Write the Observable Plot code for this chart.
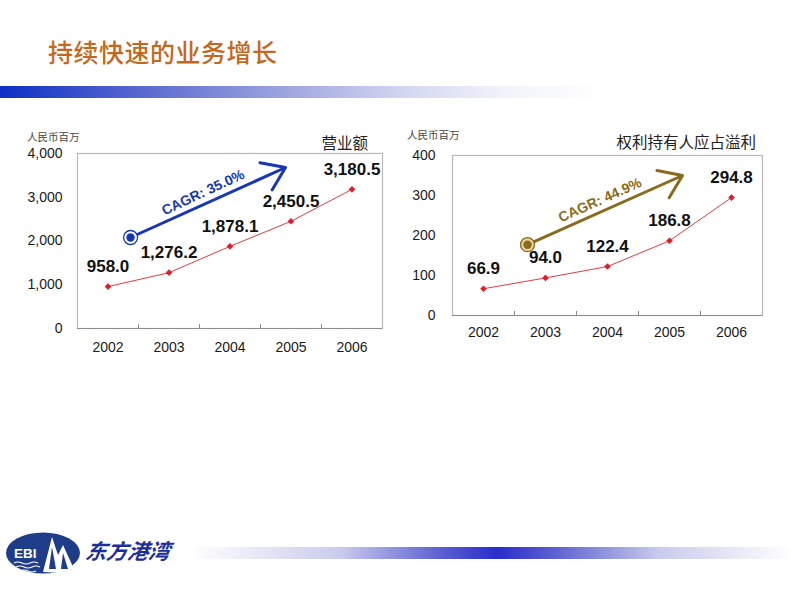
<!DOCTYPE html>
<html>
<head>
<meta charset="utf-8">
<script src="https://cdn.jsdelivr.net/npm/d3@7"></script>
<script src="https://cdn.jsdelivr.net/npm/@observablehq/plot@0.6"></script>
<style>
  html, body { margin: 0; padding: 0; background: #fff; }
  body { width: 800px; height: 600px; position: relative; overflow: hidden; font-family: "Liberation Sans", Arial, sans-serif; }
  .abs { position: absolute; }
  #title { left: 48px; top: 33px; font-family: "Noto Sans CJK SC", sans-serif; font-size: 25px; font-weight: 500; color: #c4691c; letter-spacing: 0.5px; white-space: nowrap; }
  #topbar { left: 0; top: 86px; width: 600px; height: 12px; background: linear-gradient(to right, #0e30c6 0%, #5d6cd0 25%, #9ea6df 48%, #d4d8f1 68%, #f3f4fb 85%, #ffffff 100%); }
  .unit { font-family: "Noto Sans CJK SC", sans-serif; font-size: 10.5px; color: #444; white-space: nowrap; }
  .ctitle { font-family: "Noto Sans CJK SC", sans-serif; font-size: 15.5px; color: #222; white-space: nowrap; text-align: right; }
  #footbar { left: 190px; top: 547px; width: 602px; height: 12px; background: linear-gradient(to right, rgba(255,255,255,1) 0%, #c9cbec 25%, #5a5ed0 42%, #2a2ccc 51%, #5a5ed0 60%, #c9cbec 78%, rgba(255,255,255,1) 100%); }
  #brand { left: 86px; top: 535px; font-family: "Noto Sans CJK SC", sans-serif; font-size: 21px; font-weight: 700; font-style: italic; color: #1c2e9c; white-space: nowrap; transform: skewX(-10deg); }
</style>
</head>
<body>
<div id="title" class="abs">持续快速的业务增长</div>
<div id="topbar" class="abs"></div>

<div class="abs unit" style="left:27px;top:129px;">人民币百万</div>
<div class="abs ctitle" style="right:432px;top:131px;">营业额</div>
<div class="abs unit" style="left:407px;top:127px;">人民币百万</div>
<div class="abs ctitle" style="right:44px;top:130px;">权利持有人应占溢利</div>

<div id="left" class="abs" style="left:0;top:120px;"></div>
<div id="right" class="abs" style="left:390px;top:120px;"></div>

<svg class="abs" style="left:0;top:525px;" width="90" height="56">
  <ellipse cx="43" cy="28" rx="37" ry="20.5" fill="#1f3c88"/>
  <text x="14" y="33" fill="#fff" font-family="Liberation Sans, Arial" font-weight="bold" font-size="13.5">EBI</text>
  <polygon points="43,47 52,12 58,30 63,20 74,44 62,48" fill="#fff"/>
  <polygon points="52,22 56,44 49,44" fill="#1f3c88"/>
  <polygon points="63,28 68,44 61,44" fill="#1f3c88"/>
  <path d="M14,38 q4,-2 8,0 t8,0 t8,0 M16,42 q4,-2 8,0 t8,0 t8,0 M20,46 q4,-2 8,0 t8,0" stroke="#fff" stroke-width="1.2" fill="none"/>
</svg>
<div id="brand" class="abs">东方港湾</div>
<div id="footbar" class="abs"></div>

<script>
// ---- Data ----
const years = [2002, 2003, 2004, 2005, 2006];
const revenue = [958.0, 1276.2, 1878.1, 2450.5, 3180.5];
const profit = [66.9, 94.0, 122.4, 186.8, 294.8];
const revenueTicks = [0, 1000, 2000, 3000, 4000];
const profitTicks = [0, 100, 200, 300, 400];
const categoryBoundaries = [2002.5, 2003.5, 2004.5, 2005.5];
// CAGR annotation arrows: [x1, y1, x2, y2] in data units
const revenueArrow = [2002.37, 2080, 2004.91, 3680];
const profitArrow = [2002.71, 177, 2005.21, 350];
const revenueCagr = "CAGR: 35.0%";
const profitCagr = "CAGR: 44.9%";

function chart(opts) {
  const rows = years.map((y, i) => ({year: y, value: opts.values[i]}));
  const a = opts.arrow;
  const arrowRow = [{x1: a[0], y1: a[1], x2: a[2], y2: a[3]}];
  const midRow = [{x: (a[0] + a[2]) / 2, y: (a[1] + a[3]) / 2, t: opts.cagr}];
  return Plot.plot({
    width: opts.width,
    height: opts.height,
    marginLeft: opts.ml,
    marginRight: opts.mr,
    marginTop: opts.mt,
    marginBottom: opts.mb,
    x: {type: "linear", domain: [2001.5, 2006.5]},
    y: {domain: [0, opts.yMax]},
    style: {fontFamily: "'Liberation Sans', Arial, sans-serif", fontSize: "14px", color: "#1a1a1a", background: "transparent", overflow: "visible"},
    marks: [
      Plot.frame({stroke: "#b8b8b8", strokeWidth: 1.2}),
      Plot.ruleY([0], {stroke: "#8c8c8c", strokeWidth: 1.2}),
      Plot.axisY(opts.ticks, {tickSize: 0, tickPadding: opts.yPad, tickFormat: d3.format(","), fontSize: 14, label: null}),
      Plot.axisX(years, {tickSize: 0, tickPadding: opts.xPad, tickFormat: d => String(d), fontSize: 14, label: null}),
      Plot.axisX(categoryBoundaries, {tickSize: 4, dy: -4, tickFormat: () => "", stroke: "#8c8c8c", label: null}),
      Plot.line(rows, {x: "year", y: "value", stroke: "#e83a40", strokeWidth: 1}),
      Plot.dot(rows, {x: "year", y: "value", symbol: "diamond2", r: 3, fill: "#e01e28", stroke: "none"}),
      Plot.text(rows, {x: "year", y: "value", text: d => d3.format(",.1f")(d.value), dy: -20, fontSize: 17, fontWeight: "bold", fill: "#111"}),
      Plot.arrow(arrowRow, {x1: "x1", y1: "y1", x2: "x2", y2: "y2", stroke: opts.color, strokeWidth: 3, headLength: 13, headAngle: 70}),
      Plot.dot(arrowRow, {x: "x1", y: "y1", r: 7, fill: opts.ringFill, stroke: opts.color, strokeWidth: 1.3}),
      Plot.dot(arrowRow, {x: "x1", y: "y1", r: 4.2, fill: opts.color}),
      Plot.text(midRow, {x: "x", y: "y", text: "t", rotate: opts.angle, dx: -5, dy: -10, fontSize: 14, fontWeight: "bold", fill: opts.color})
    ]
  });
}

document.getElementById("left").append(chart({
  values: revenue, ticks: revenueTicks, yMax: 4000, arrow: revenueArrow, cagr: revenueCagr,
  color: "#1636b4", ringFill: "#ffffff", angle: -25,
  width: 400, height: 245, ml: 77, mr: 18, mt: 33, mb: 37, yPad: 15, xPad: 14
}));

document.getElementById("right").append(chart({
  values: profit, ticks: profitTicks, yMax: 400, arrow: profitArrow, cagr: profitCagr,
  color: "#8a6a1c", ringFill: "#e6d49c", angle: -24,
  width: 410, height: 230, ml: 62, mr: 38, mt: 35, mb: 35, yPad: 17, xPad: 12
}));
</script>
</body>
</html>
